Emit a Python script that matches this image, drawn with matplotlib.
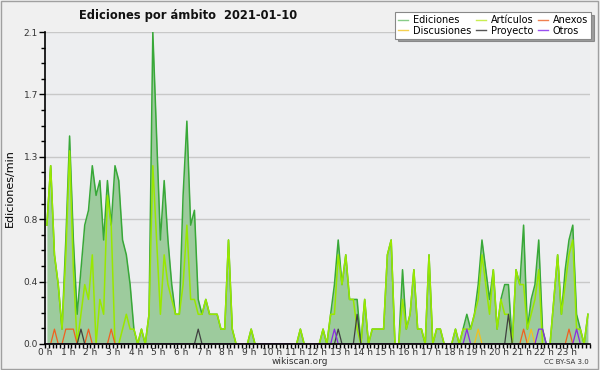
import numpy as np
import matplotlib
matplotlib.use("Agg")
import matplotlib.pyplot as plt
from matplotlib.lines import Line2D
from matplotlib.patches import Rectangle

# edits per minute, one value per 10-minute slot (6 per hour)
ediciones = [
    0.8, 1.2, 0.6, 0.4, 0.1, 0.7,   # 0 h
    1.4, 0.7, 0.2, 0.5, 0.8, 0.9,   # 1 h
    1.2, 1.0, 1.1, 0.7, 1.1, 0.8,   # 2 h
    1.2, 1.1, 0.7, 0.6, 0.4, 0.1,   # 3 h
    0.0, 0.1, 0.0, 0.2, 2.1, 1.4,   # 4 h
    0.7, 1.1, 0.7, 0.4, 0.2, 0.2,   # 5 h
    1.0, 1.5, 0.8, 0.9, 0.3, 0.2,   # 6 h
    0.3, 0.2, 0.2, 0.2, 0.1, 0.1,   # 7 h
    0.7, 0.1, 0.0, 0.0, 0.0, 0.0,   # 8 h
    0.1, 0.0, 0.0, 0.0, 0.0, 0.0,   # 9 h
    0.0, 0.0, 0.0, 0.0, 0.0, 0.0,   # 10 h
    0.0, 0.1, 0.0, 0.0, 0.0, 0.0,   # 11 h
    0.0, 0.1, 0.0, 0.2, 0.4, 0.7,   # 12 h
    0.4, 0.6, 0.3, 0.3, 0.3, 0.0,   # 13 h
    0.3, 0.0, 0.1, 0.1, 0.1, 0.1,   # 14 h
    0.6, 0.7, 0.0, 0.0, 0.5, 0.1,   # 15 h
    0.2, 0.5, 0.1, 0.1, 0.0, 0.6,   # 16 h
    0.0, 0.1, 0.1, 0.0, 0.0, 0.0,   # 17 h
    0.1, 0.0, 0.1, 0.2, 0.1, 0.2,   # 18 h
    0.4, 0.7, 0.5, 0.3, 0.5, 0.1,   # 19 h
    0.3, 0.4, 0.4, 0.0, 0.5, 0.4,   # 20 h
    0.8, 0.1, 0.3, 0.4, 0.7, 0.1,   # 21 h
    0.0, 0.0, 0.3, 0.6, 0.2, 0.5,   # 22 h
    0.7, 0.8, 0.2, 0.1, 0.0, 0.2,   # 23 h
]

articulos = [
    0.8, 1.2, 0.6, 0.4, 0.1, 0.6,
    1.3, 0.5, 0.0, 0.2, 0.4, 0.3,
    0.6, 0.0, 0.3, 0.2, 1.0, 0.8,
    0.0, 0.0, 0.1, 0.2, 0.1, 0.1,
    0.0, 0.1, 0.0, 0.2, 1.2, 0.7,
    0.2, 0.6, 0.4, 0.3, 0.2, 0.2,
    0.4, 0.8, 0.3, 0.3, 0.2, 0.2,
    0.3, 0.2, 0.2, 0.2, 0.1, 0.1,
    0.7, 0.1, 0.0, 0.0, 0.0, 0.0,
    0.1, 0.0, 0.0, 0.0, 0.0, 0.0,
    0.0, 0.0, 0.0, 0.0, 0.0, 0.0,
    0.0, 0.1, 0.0, 0.0, 0.0, 0.0,
    0.0, 0.1, 0.0, 0.2, 0.2, 0.6,
    0.4, 0.6, 0.3, 0.3, 0.1, 0.0,
    0.3, 0.0, 0.1, 0.1, 0.1, 0.1,
    0.6, 0.7, 0.0, 0.0, 0.3, 0.1,
    0.2, 0.5, 0.1, 0.1, 0.0, 0.6,
    0.0, 0.1, 0.1, 0.0, 0.0, 0.0,
    0.1, 0.0, 0.1, 0.1, 0.1, 0.2,
    0.3, 0.6, 0.4, 0.2, 0.5, 0.1,
    0.3, 0.2, 0.2, 0.0, 0.5, 0.4,
    0.4, 0.1, 0.2, 0.3, 0.5, 0.0,
    0.0, 0.0, 0.3, 0.6, 0.2, 0.4,
    0.6, 0.7, 0.1, 0.1, 0.0, 0.2,
]

# the small namespaces only have a few non-zero slots
anexos = {"00:20": 0.1, "00:50": 0.1, "01:00": 0.1, "01:10": 0.1, "01:50": 0.1,
          "02:50": 0.1, "21:00": 0.1, "23:00": 0.1}
discusiones = {"19:00": 0.1, "21:20": 0.1}
proyecto = {"01:30": 0.1, "06:40": 0.1, "12:50": 0.1, "13:40": 0.2, "20:20": 0.2}
otros = {"12:40": 0.1, "18:30": 0.1, "21:40": 0.1, "21:50": 0.1, "23:20": 0.1}

hour_labels = ["%d h" % h for h in range(24)]


def sparse_to_slots(d, n=144):
    out = np.zeros(n)
    for t, v in d.items():
        hh, mm = t.split(":")
        out[int(hh) * 6 + int(mm) // 10] = v
    return out


x = (np.arange(144) + 0.5) / 6.0

fig = plt.figure(figsize=(6, 3.7), dpi=100, facecolor="#f0f0f0")
fig.patches.append(Rectangle((0.002, 0.003), 0.995, 0.994, transform=fig.transFigure,
                             fill=False, edgecolor="#a0a0a0", linewidth=1.0))
ax = fig.add_axes([0.075, 0.0703, 0.908, 0.8432])
ax.set_facecolor("#edeef0")

ax.fill_between(x, ediciones, 0, color="#9dcb9d", linewidth=0)
ax.plot(x, ediciones, color="#38a838", linewidth=1.1)
ax.plot(x, articulos, color="#99e800", linewidth=1.1)
ax.plot(x, sparse_to_slots(anexos), color="#f06020", linewidth=0.9)
ax.plot(x, sparse_to_slots(discusiones), color="#f0c020", linewidth=0.9)
ax.plot(x, sparse_to_slots(proyecto), color="#404040", linewidth=0.9)
ax.plot(x, sparse_to_slots(otros), color="#8a2be2", linewidth=0.9)

ymax = 2.1
ax.set_xlim(0, 24)
ax.set_ylim(0, ymax)
major = np.linspace(0, ymax, 6)
ax.set_yticks(major)
ax.set_yticklabels(["%.1f" % v for v in major])
ax.set_yticks(np.linspace(0, ymax, 21), minor=True)
ax.set_xticks(np.arange(24))
ax.set_xticklabels(hour_labels)
ax.set_xticks(np.arange(0, 24.01, 1 / 6.0), minor=True)
ax.grid(axis="y", which="major", color="#c8c8c8", linewidth=1)
ax.set_axisbelow(True)
for s in ["top", "right"]:
    ax.spines[s].set_visible(False)
for s in ["left", "bottom"]:
    ax.spines[s].set_color("black")
    ax.spines[s].set_linewidth(1.2)
ax.tick_params(axis="both", which="both", direction="out", colors="black",
               labelcolor="#333333", labelsize=6.5, width=1)
ax.tick_params(axis="y", which="major", length=4, pad=1)
ax.tick_params(axis="y", which="minor", length=3)
ax.tick_params(axis="x", which="both", length=3, pad=0)
ax.set_ylabel("Ediciones/min", fontsize=8, labelpad=6)

fig.text(0.313, 0.958, "Ediciones por ámbito  2021-01-10", ha="center", va="center",
         fontsize=8.3, fontweight="bold", color="#111111")
fig.text(0.5, 0.022, "wikiscan.org", ha="center", va="center", fontsize=6.5, color="#333333")
fig.text(0.982, 0.022, "CC BY-SA 3.0", ha="right", va="center", fontsize=5, color="#333333")

handles = [
    Line2D([], [], color="#88cc88", lw=1), Line2D([], [], color="#f5d050", lw=1),
    Line2D([], [], color="#c8ee50", lw=1), Line2D([], [], color="#555555", lw=1),
    Line2D([], [], color="#f08050", lw=1), Line2D([], [], color="#9950f0", lw=1),
]
labels = ["Ediciones", "Discusiones", "Artículos", "Proyecto", "Anexos", "Otros"]
leg = fig.legend(handles, labels, ncol=3, loc="upper right", bbox_to_anchor=(0.988, 0.972),
                 fontsize=7, frameon=True, fancybox=False, shadow=True, borderpad=0.3,
                 handlelength=1.0, handletextpad=0.5, columnspacing=0.5, labelspacing=0.05,
                 borderaxespad=0.2)
leg.get_frame().set_edgecolor("#888888")
leg.get_frame().set_linewidth(0.8)

fig.savefig("out.png", dpi=100, facecolor=fig.get_facecolor())
